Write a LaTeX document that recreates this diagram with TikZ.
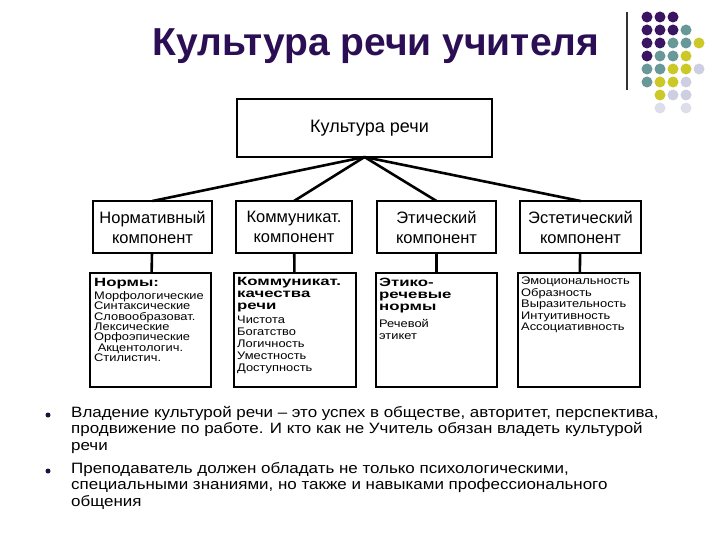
\documentclass[tikz,border=0pt]{standalone}
\usepackage{fontspec}
\setmainfont{Liberation Sans}
\newfontfamily\widefont[FakeStretch=1.17]{Liberation Sans}
\newfontfamily\headfont[FakeStretch=1.4]{Liberation Sans}
\newfontfamily\bodyfont[FakeStretch=1.13]{Liberation Sans}
\usepackage{tikz}
\usetikzlibrary{positioning}
\definecolor{titlepurple}{RGB}{44,14,84}
\definecolor{dotpurple}{RGB}{58,22,98}
\definecolor{dotteal}{RGB}{104,152,152}
\definecolor{dotyellow}{RGB}{204,200,40}
\definecolor{dotlilac}{RGB}{206,206,226}

\begin{document}
\begin{tikzpicture}[x=1pt, y=-1pt,
    box/.style={
        draw=black, line width=1.3pt,
        inner sep=0pt, outer sep=0pt
    },
    midtext/.style={
        font=\fontsize{16.5}{20}\selectfont,
        align=center
    },
    headtext/.style={
        anchor=north west, inner sep=0pt, align=left,
        font=\headfont\bfseries\fontsize{12}{12}\selectfont
    },
    itemtext/.style={
        anchor=north west, inner sep=0pt, align=left,
        font=\widefont\fontsize{11}{#1}\selectfont
    },
    link/.style={line width=2.6pt, black},
    bodytext/.style={
        anchor=north west, inner sep=0pt, align=left,
        font=\bodyfont\fontsize{15}{16.5}\selectfont
    },
    bullet/.style={circle, fill=titlepurple!80!black,
        minimum size=5pt, inner sep=0pt}
]
\useasboundingbox (0,0) rectangle (720,540);

% title and corner decoration
\node[anchor=base, text=titlepurple,
    font=\bfseries\fontsize{39}{44}\selectfont] (title) at (376,56)
    {Культура речи учителя};
\draw[line width=1.2pt, black!80] (627,12) -- (627,90);
\foreach \c/\r/\col in {0/0/dotpurple, 1/0/dotpurple, 2/0/dotpurple,
    0/1/dotpurple, 1/1/dotpurple, 2/1/dotpurple, 3/1/dotteal,
    0/2/dotpurple, 1/2/dotpurple, 2/2/dotteal, 3/2/dotteal, 4/2/dotyellow,
    0/3/dotpurple, 1/3/dotteal, 2/3/dotteal, 3/3/dotyellow,
    0/4/dotteal, 1/4/dotteal, 2/4/dotyellow, 3/4/dotyellow, 4/4/dotlilac,
    0/5/dotteal, 1/5/dotyellow, 2/5/dotyellow, 3/5/dotlilac,
    1/6/dotyellow, 2/6/dotlilac, 3/6/dotlilac,
    1/7/dotlilac!70, 3/7/dotlilac!70}
    \fill[\col] (647+13*\c, 17+13*\r) circle (5.5pt);

% top box
\node[box, minimum width=255pt, minimum height=58pt,
    font=\fontsize{18}{20}\selectfont] (top) at (364.5,128)
    {\hspace*{10pt}Культура речи};

% components
\node[box, midtext, minimum width=119pt, minimum height=52pt]
    (norm) at (152.5,227) {Нормативный\\компонент};
\node[box, midtext, minimum width=116pt, minimum height=52pt]
    (comm) at (294,227) {Коммуникат.\\компонент};
\node[box, midtext, minimum width=119pt, minimum height=52pt]
    (ethic) at (436.5,227) {Этический\\компонент};
\node[box, midtext, minimum width=121pt, minimum height=52pt]
    (aesth) at (580.5,227) {Эстетический\\компонент};

\foreach \n in {norm, comm, ethic, aesth}
    \draw[link] (top.south) -- (\n.north);

% lower boxes
\node[box, minimum width=121pt, minimum height=114pt] (normlist) at (150.5,330) {};
\node[box, minimum width=122pt, minimum height=114pt] (commlist) at (295,330) {};
\node[box, minimum width=121pt, minimum height=114pt] (ethiclist) at (436.5,330) {};
\node[box, minimum width=122pt, minimum height=114pt] (aesthlist) at (579,330) {};

\draw[link] (norm) -- (normlist);
\draw[link] (comm) -- (commlist);
\draw[link] (ethic) -- (ethiclist);
\draw[link] (aesth) -- (aesthlist);

\node[headtext] (normhead) at ([shift={(4,5)}]normlist.north west) {Нормы:};
\node[itemtext=10.4] (normitems) at ([shift={(0,2)}]normhead.south west)
    {Морфологические\\Синтаксические\\Словообразоват.\\Лексические\\%
     Орфоэпические\\\ Акцентологич.\\Стилистич.};

\node[headtext] (commhead) at ([shift={(3,4)}]commlist.north west)
    {Коммуникат.\\качества\\речи};
\node[itemtext=12] (commitems) at ([shift={(0,4)}]commhead.south west)
    {Чистота\\Богатство\\Логичность\\Уместность\\Доступность};

\node[headtext] (ethichead) at ([shift={(3,5)}]ethiclist.north west)
    {Этико-\\речевые\\нормы};
\node[itemtext=11.5] (ethicitems) at ([shift={(0,6)}]ethichead.south west)
    {Речевой\\этикет};

\node[itemtext=11.5] (aesthitems) at ([shift={(3,4)}]aesthlist.north west)
    {Эмоциональность\\Образность\\Выразительность\\Интуитивность\\%
     Ассоциативность};

% bullet points
\node[bullet] (dot1) at (48,415) {};
\node[bodytext] (para1) at (71,406)
    {Владение культурой речи – это успех в обществе, авторитет, перспектива,\\
     продвижение по работе. И кто как не Учитель обязан владеть культурой\\
     речи};
\node[bullet] (dot2) at (48,471) {};
\node[bodytext] (para2) at (71,462)
    {Преподаватель должен обладать не только психологическими,\\
     специальными знаниями, но также и навыками профессионального\\
     общения};
\end{tikzpicture}
\end{document}
